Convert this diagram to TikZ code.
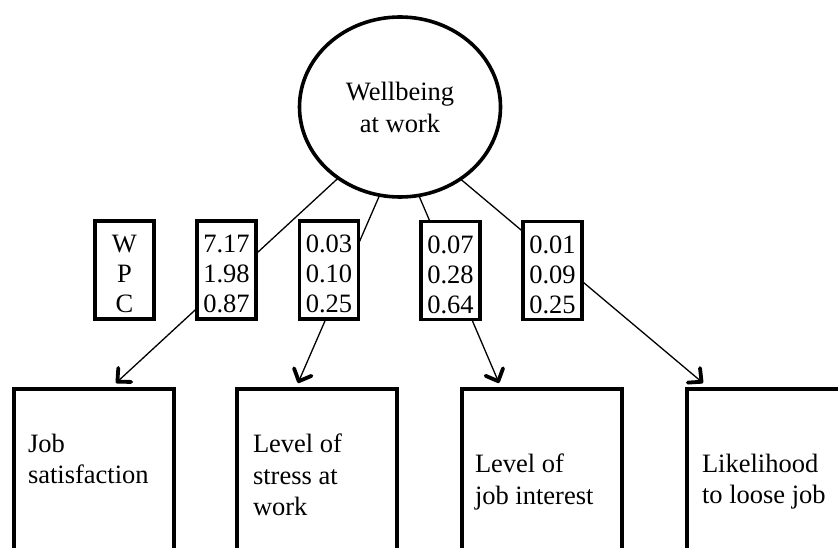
\documentclass[tikz,border=0pt]{standalone}
\usepackage{fontspec}
\setmainfont{Liberation Serif}
\usetikzlibrary{shapes.geometric,arrows.meta,calc,backgrounds}
% extra room above the first line of a value box
\newcommand\padtop{\rule{0pt}{26pt}}
\begin{document}
\begin{tikzpicture}[x=1pt,y=-1pt,
  every node/.style={outer sep=0pt},
  latent/.style={ellipse, draw, line width=3.6pt, fill=white,
    minimum width=201pt, minimum height=180pt, inner sep=0pt,
    align=center, font=\fontsize{26.5}{32}\selectfont},
  valbox/.style={rectangle, draw, line width=3.6pt, fill=white,
    minimum width=59pt, minimum height=98pt, inner sep=0pt,
    align=center, font=\fontsize{26.5}{30}\selectfont},
  obsbox/.style={rectangle, draw, line width=3.8pt, anchor=north west,
    minimum width=160pt, minimum height=190pt, inner sep=0pt},
  obstext/.style={anchor=north west, inner sep=0pt, align=left,
    font=\fontsize{26.5}{31.5}\selectfont},
  link/.style={line width=1.3pt,
    -{Straight Barb[length=10pt,width=19pt,line width=3.8pt 0,round]}}
]
\useasboundingbox (0,0) rectangle (838,548);

% latent construct
\node[latent] (well) at (400,107) {Wellbeing\\at work};

% coefficient boxes
\node[valbox] (key) at (124.5,270) {\padtop W\\P\\C};
\node[valbox] (v1) at (226.5,270) {\padtop 7.17\\1.98\\0.87};
\node[valbox] (v2) at (329,270) {\padtop 0.03\\0.10\\0.25};
\node[valbox] (v3) at (450.5,270.5) {\padtop 0.07\\0.28\\0.64};
\node[valbox] (v4) at (552.5,270.5) {\padtop 0.01\\0.09\\0.25};

% observed indicators
\node[obsbox] (jobsat) at (14,389) {};
\node[obstext] (jobsatT) at ($(jobsat.north west)+(14,45)$) {Job\\satisfaction};
\node[obsbox] (stress) at (237,389) {};
\node[obstext] (stressT) at ($(stress.north west)+(16,45)$) {Level of\\stress at\\work};
\node[obsbox] (interest) at (462,389) {};
\node[obstext] (interestT) at ($(interest.north west)+(13,65)$) {Level of\\job interest};
\node[obsbox] (loose) at (687,389) {};
\node[obstext] (looseT) at ($(loose.north west)+(15,65)$) {Likelihood\\to loose job};

% arrow tips just above each indicator box
\coordinate (endA) at ($(jobsat.north west)+(102,-6)$);
\coordinate (endB) at ($(stress.north west)+(61,-6)$);
\coordinate (endC) at ($(interest.north west)+(37,-6)$);
\coordinate (endD) at ($(loose.north west)+(16,-6)$);

% loadings, drawn behind the value boxes
\begin{scope}[on background layer]
  \draw[link] (well.229) -- (endA);
  \draw[link] (well.257.7) -- (endB);
  \draw[link] (well.282.3) -- (endC);
  \draw[link] (well.310.4) -- (endD);
\end{scope}
\end{tikzpicture}
\end{document}
